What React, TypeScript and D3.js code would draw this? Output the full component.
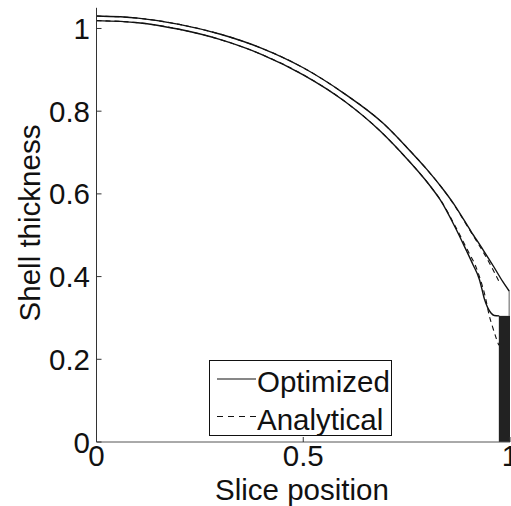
import React from "react";
import * as d3 from "d3";

// Optimized (solid) shell: outer and inner surfaces
const optOuterX = [0, 0.1, 0.2, 0.3, 0.4, 0.5, 0.6, 0.694, 0.75, 0.8, 0.839, 0.859, 0.906, 0.936, 0.96, 0.983, 0.998];
const optOuterY = [1.03, 1.025, 1.01, 0.986, 0.952, 0.905, 0.842, 0.77, 0.713, 0.658, 0.61, 0.583, 0.509, 0.463, 0.425, 0.387, 0.365];
const optInnerX = [0, 0.1, 0.2, 0.3, 0.4, 0.5, 0.6, 0.686, 0.734, 0.807, 0.831, 0.867, 0.895, 0.91, 0.926, 0.934, 0.938, 0.946, 0.954, 0.962, 0.974];
const optInnerY = [1.019, 1.014, 0.998, 0.973, 0.937, 0.888, 0.824, 0.752, 0.703, 0.619, 0.586, 0.52, 0.462, 0.43, 0.393, 0.362, 0.346, 0.325, 0.312, 0.306, 0.305];
// end drop of the optimized outer surface
const optEndX = 0.998;
const optEndY = [0.365, 0.305];

// Analytical (dashed) shell
const anaOuterX = [0, 0.1, 0.2, 0.3, 0.4, 0.5, 0.6, 0.694, 0.75, 0.8, 0.839, 0.859, 0.906, 0.936, 0.955, 0.974];
const anaOuterY = [1.03, 1.025, 1.01, 0.986, 0.952, 0.905, 0.842, 0.77, 0.713, 0.658, 0.61, 0.582, 0.507, 0.458, 0.424, 0.387];
const anaInnerX = [0, 0.1, 0.2, 0.3, 0.4, 0.5, 0.6, 0.686, 0.734, 0.807, 0.831, 0.867, 0.902, 0.915, 0.928, 0.94, 0.95, 0.958, 0.968, 0.973];
const anaInnerY = [1.019, 1.014, 0.998, 0.973, 0.937, 0.888, 0.824, 0.752, 0.703, 0.619, 0.587, 0.523, 0.455, 0.43, 0.394, 0.352, 0.305, 0.278, 0.247, 0.234];

// Black bar at the end
const barX0 = 0.973;
const barX1 = 1.0;
const barH = 0.305;

const xTicks = [0, 0.5, 1];
const xTickLabels = ["0", "0.5", "1"];
const yTicks = [0, 0.2, 0.4, 0.6, 0.8, 1];
const yTickLabels = ["0", "0.2", "0.4", "0.6", "0.8", "1"];
const legendLabels = ["Optimized", "Analytical"];

const FONT = "'Liberation Sans', Arial, Helvetica, sans-serif";
const FS = 29.5;

export default function App() {
  const x = d3.scaleLinear().domain([0, 1]).range([96.5, 510]);
  const y = d3.scaleLinear().domain([0, 1.05]).range([442, 7.8]);

  const line = d3
    .line<[number, number]>()
    .x((d) => x(d[0]))
    .y((d) => y(d[1]))
    .curve(d3.curveMonotoneX);
  const lin = d3
    .line<[number, number]>()
    .x((d) => x(d[0]))
    .y((d) => y(d[1]));

  const zip = (xs: number[], ys: number[]) => xs.map((v, i) => [v, ys[i]] as [number, number]);

  const optOuter = line(zip(optOuterX, optOuterY)) || "";
  const optInner = line(zip(optInnerX, optInnerY)) || "";
  const optDrop = lin(optEndY.map((v) => [optEndX, v] as [number, number])) || "";
  const anaOuter = line(zip(anaOuterX, anaOuterY)) || "";
  const anaInner = line(zip(anaInnerX, anaInnerY)) || "";

  const x0 = x(0);
  const y0 = y(0);

  return (
    <svg
      width={511}
      height={506}
      style={{ position: "absolute", left: 0, top: 0, background: "#fff" }}
      fontFamily={FONT}
    >
      <rect x={0} y={0} width={511} height={506} fill="#fff" />
      {/* bar */}
      <rect x={x(barX0)} y={y(barH)} width={x(barX1) - x(barX0)} height={y(0) - y(barH)} fill="#222" />

      {/* analytical dashed */}
      <path d={anaOuter} fill="none" stroke="#111" strokeWidth={1.1} strokeDasharray="5,4" />
      <path d={anaInner} fill="none" stroke="#111" strokeWidth={1.1} strokeDasharray="5,4" />

      {/* optimized solid */}
      <path d={optOuter} fill="none" stroke="#111" strokeWidth={1.4} />
      <path d={optInner} fill="none" stroke="#111" strokeWidth={1.4} />
      <path d={optDrop} fill="none" stroke="#777" strokeWidth={1.2} />

      {/* axes */}
      <line x1={x0} x2={x0} y1={y(1.05)} y2={y0} stroke="#333" strokeWidth={1} />
      <line x1={x0} x2={x(1)} y1={y0} y2={y0} stroke="#555" strokeWidth={1} />
      {yTicks.map((t, i) => (
        <g key={"yt" + i}>
          <line x1={x0} x2={x0 + 5} y1={y(t)} y2={y(t)} stroke="#333" strokeWidth={1} />
          <text x={90} y={y(t) + 10.5} fontSize={FS} textAnchor="end" fill="#111">
            {yTickLabels[i]}
          </text>
        </g>
      ))}
      {xTicks.map((t, i) => (
        <g key={"xt" + i}>
          <line x1={x(t)} x2={x(t)} y1={y0} y2={y0 - 5} stroke="#333" strokeWidth={1} />
          <text x={x(t)} y={466} fontSize={FS} textAnchor="middle" fill="#111">
            {xTickLabels[i]}
          </text>
        </g>
      ))}

      {/* axis labels */}
      <text x={302} y={500} fontSize={FS} textAnchor="middle" fill="#111">
        Slice position
      </text>
      <text transform="translate(40,223) rotate(-90)" fontSize={FS} textAnchor="middle" fill="#111">
        Shell thickness
      </text>

      {/* legend */}
      <rect x={209.5} y={360.5} width={182} height={75} fill="#fff" stroke="#111" strokeWidth={1} />
      <line x1={217} x2={256} y1={379} y2={379} stroke="#111" strokeWidth={1.2} />
      <text x={257} y={391.5} fontSize={FS} fill="#111">
        {legendLabels[0]}
      </text>
      <line x1={217} x2={256} y1={416.5} y2={416.5} stroke="#111" strokeWidth={1} strokeDasharray="6,5" />
      <text x={257} y={429.5} fontSize={FS} fill="#111">
        {legendLabels[1]}
      </text>
    </svg>
  );
}
